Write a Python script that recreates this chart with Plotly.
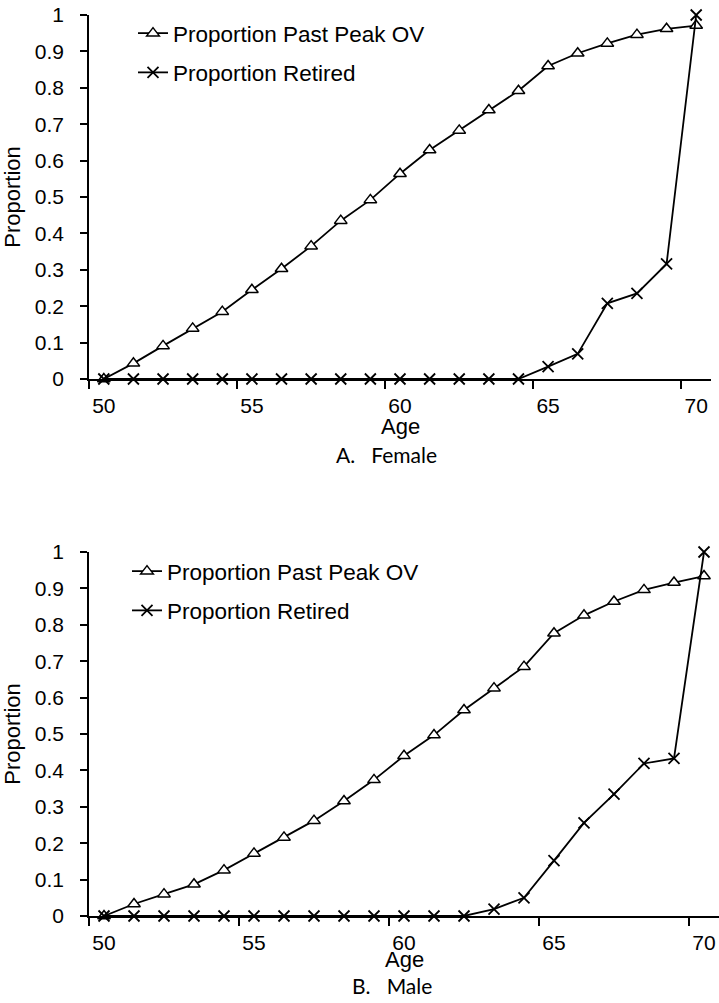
import plotly.graph_objects as go

ages = list(range(50, 71))

female_past_peak = [0.0, 0.043, 0.091, 0.139, 0.185, 0.245, 0.303, 0.365, 0.435, 0.492,
                    0.564, 0.629, 0.683, 0.739, 0.792, 0.860, 0.895, 0.922, 0.946, 0.962, 0.971]
female_retired = [0, 0, 0, 0, 0, 0, 0, 0, 0, 0, 0, 0, 0, 0, 0,
                  0.034, 0.069, 0.208, 0.235, 0.316, 1.0]

male_past_peak = [0.0, 0.033, 0.060, 0.087, 0.126, 0.172, 0.216, 0.262, 0.316, 0.374,
                  0.440, 0.497, 0.566, 0.626, 0.685, 0.777, 0.826, 0.864, 0.896, 0.916, 0.934]
male_retired = [0, 0, 0, 0, 0, 0, 0, 0, 0, 0, 0, 0, 0,
                0.019, 0.050, 0.152, 0.256, 0.335, 0.419, 0.433, 1.0]

x_tick_vals = [50, 55, 60, 65, 70]
x_tick_text = ["50", "55", "60", "65", "70"]
x_minor_ticks = [49.5, 54.5, 59.5, 64.5, 69.5]
y_tick_vals = [0, 0.1, 0.2, 0.3, 0.4, 0.5, 0.6, 0.7, 0.8, 0.9, 1]
y_tick_text = ["0", "0.1", "0.2", "0.3", "0.4", "0.5", "0.6", "0.7", "0.8", "0.9", "1"]

W, H = 719, 1003
FONT = "Liberation Sans, Arial, sans-serif"

def px_x(p):
    return p / W

def px_y(p):
    return 1 - p / H

fig = go.Figure()

tri = dict(symbol="triangle-up", size=11, color="white", line=dict(color="black", width=1.5))
xm = dict(symbol="x-thin", size=11, color="black", line=dict(color="black", width=1.8))

panels = [
    (female_past_peak, female_retired, "x", "y", "legend"),
    (male_past_peak, male_retired, "x2", "y2", "legend2"),
]
for i, (pp, rr, xa, ya, lg) in enumerate(panels):
    fig.add_trace(go.Scatter(x=ages, y=pp, mode="lines+markers", name="Proportion Past Peak OV",
                             line=dict(color="black", width=1.8), marker=tri,
                             legendgroup=f"pp{i}", hoverinfo="skip",
                             xaxis=xa, yaxis=ya, legend=lg, cliponaxis=False))
    fig.add_trace(go.Scatter(x=ages, y=rr, mode="lines+markers", name="Proportion Retired",
                             line=dict(color="black", width=1.8), marker=xm,
                             legendgroup=f"rr{i}", hoverinfo="skip",
                             xaxis=xa, yaxis=ya, legend=lg, cliponaxis=False))

def xaxis(domain, anchor):
    return dict(domain=domain, anchor=anchor, range=[49.5, 70.5], tickmode="array",
                tickvals=x_tick_vals, ticktext=x_tick_text, ticks="", showgrid=False,
                zeroline=False, showline=True, linecolor="black", linewidth=1.5,
                tickfont=dict(family=FONT, size=21, color="black"), ticklabelstandoff=7,
                automargin=False,
                minor=dict(tickmode="array", tickvals=x_minor_ticks, ticks="outside", ticklen=8,
                           tickcolor="black", tickwidth=1.5, showgrid=False))

def yaxis(domain, anchor):
    return dict(domain=domain, anchor=anchor, range=[0, 1], tickmode="array",
                tickvals=y_tick_vals, ticktext=y_tick_text, ticks="outside", ticklen=7,
                tickcolor="black", tickwidth=1.5, showgrid=False, zeroline=False,
                showline=True, linecolor="black", linewidth=1.5, automargin=False,
                tickfont=dict(family=FONT, size=21, color="black"), ticklabelstandoff=12,
                title=dict(text="Proportion", font=dict(family=FONT, size=22, color="black"), standoff=8))

leg_common = dict(xanchor="left", yanchor="top", bgcolor="rgba(0,0,0,0)",
                  font=dict(family=FONT, size=22.5, color="black"), borderwidth=0,
                  tracegroupgap=7)

fig.update_layout(
    width=W, height=H, margin=dict(l=0, r=0, t=0, b=0, pad=0, autoexpand=False),
    paper_bgcolor="white", plot_bgcolor="white", hovermode=False,
    xaxis=xaxis([px_x(89), px_x(711)], "y"),
    yaxis=yaxis([px_y(379), px_y(15)], "x"),
    xaxis2=xaxis([px_x(89), 1.0], "y2"),
    yaxis2=yaxis([px_y(916), px_y(552)], "x2"),
    legend=dict(x=px_x(133), y=px_y(12), **leg_common),
    legend2=dict(x=px_x(127), y=px_y(550), **leg_common),
    showlegend=True,
)

title_font = dict(family=FONT, size=22, color="black")
fig.add_annotation(text="Age", x=px_x(400), y=px_y(427), xref="paper", yref="paper",
                   showarrow=False, font=title_font, xanchor="center", yanchor="middle")
fig.add_annotation(text="Age", x=px_x(404), y=px_y(959), xref="paper", yref="paper",
                   showarrow=False, font=title_font, xanchor="center", yanchor="middle")

cap_font = dict(family="Lato, Carlito, sans-serif", size=21, color="black")
fig.add_annotation(text="A.\u00a0\u00a0\u00a0Female", x=px_x(386), y=px_y(455), xref="paper", yref="paper",
                   showarrow=False, font=cap_font, xanchor="center", yanchor="middle")
fig.add_annotation(text="B.\u00a0\u00a0\u00a0Male", x=px_x(392), y=px_y(985), xref="paper", yref="paper",
                   showarrow=False, font=cap_font, xanchor="center", yanchor="middle")

fig.write_html("out.html", config={"displayModeBar": False},
               post_script="document.body.style.margin='0';document.body.style.padding='0';")
